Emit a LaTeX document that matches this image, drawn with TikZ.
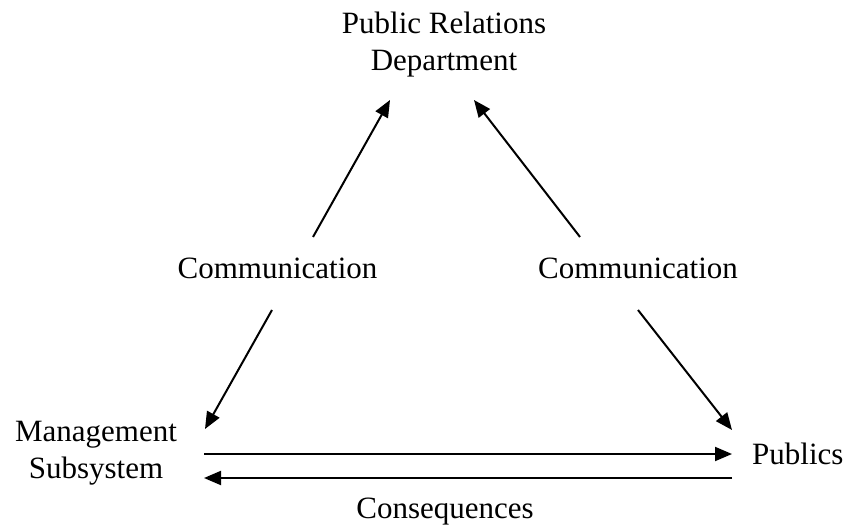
\documentclass[tikz,border=0pt]{standalone}
\usepackage{fontspec}
\setmainfont{Liberation Serif}
\usetikzlibrary{arrows.meta}
\begin{document}
\begin{tikzpicture}[x=1pt,y=-1pt,
  lbl/.style={font=\fontsize{31}{37}\selectfont, align=center, inner sep=0pt},
  conn/.style={line width=2pt, -{Triangle[length=17pt,width=14pt]}}]
\useasboundingbox (0,0) rectangle (846,529);
\node[lbl] (pr) at (444,45) {Public Relations\\Department};
\node[lbl] (cl) at (277.5,268) {Communication};
\node[lbl] (cr) at (638,268) {Communication};
\node[lbl] (ms) at (96,453) {Management\\Subsystem};
\node[lbl, anchor=west] (pub) at (752,454) {Publics};
\node[lbl] (con) at (445,512) {Consequences};
\coordinate (a1s) at (313,237); \coordinate (a1e) at (390,100);
\coordinate (a2s) at (580,237); \coordinate (a2e) at (474,100);
\coordinate (a3s) at (272,310); \coordinate (a3e) at (205,429);
\coordinate (a4s) at (638,310); \coordinate (a4e) at (732,430);
\coordinate (h1s) at (204,454); \coordinate (h1e) at (732,454);
\coordinate (h2s) at (732,478); \coordinate (h2e) at (204,478);
\draw[conn] (a1s) -- (a1e);
\draw[conn] (a2s) -- (a2e);
\draw[conn] (a3s) -- (a3e);
\draw[conn] (a4s) -- (a4e);
\draw[conn] (h1s) -- (h1e);
\draw[conn] (h2s) -- (h2e);
\end{tikzpicture}
\end{document}
